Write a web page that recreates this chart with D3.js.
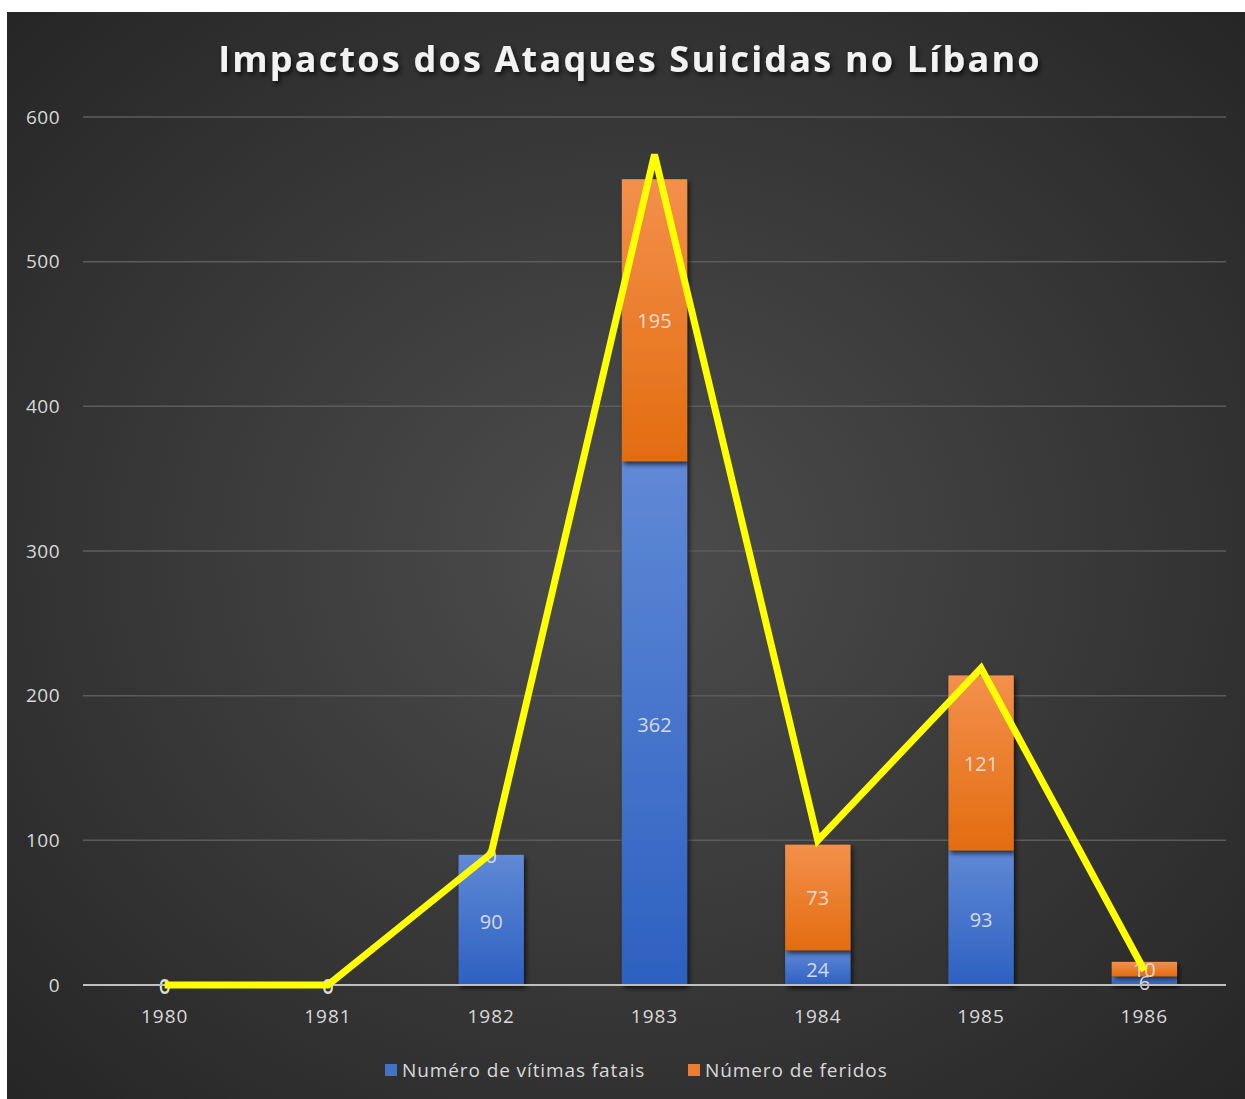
<!DOCTYPE html>
<html>
<head>
<meta charset="utf-8">
<script src="https://cdn.jsdelivr.net/npm/d3@7"></script>
<style>
  body { margin: 0; background: #fff; }
  svg { display: block; }
  text { font-family: "Open Sans", "Noto Sans", sans-serif; }
</style>
</head>
<body>
<svg width="1245" height="1099"></svg>
<script>
var years = ["1980", "1981", "1982", "1983", "1984", "1985", "1986"];
var fatais = [0, 0, 90, 362, 24, 93, 6];
var feridos = [0, 0, 0, 195, 73, 121, 10];
// yellow line drawn over the bars (hand placed in original)
var linha = [0, 0, 91, 574, 100, 219, 10];
var yTicks = [0, 100, 200, 300, 400, 500, 600];
var seriesNames = ["Numéro de vítimas fatais", "Número de feridos"];

var svg = d3.select("svg"),
    margin = { top: 117, right: 19, bottom: 114, left: 83 },
    width = 1245 - margin.left - margin.right,
    height = 1099 - margin.top - margin.bottom;

var defs = svg.append("defs");

var bg = defs.append("radialGradient").attr("id", "bg")
    .attr("cx", "50%").attr("cy", "50%").attr("r", "70%");
bg.append("stop").attr("offset", "0%").attr("stop-color", "#4d4d4d");
bg.append("stop").attr("offset", "100%").attr("stop-color", "#262626");

var gBlue = defs.append("linearGradient").attr("id", "gBlue").attr("x1", 0).attr("y1", 0).attr("x2", 0).attr("y2", 1);
gBlue.append("stop").attr("offset", "0%").attr("stop-color", "#6089d6");
gBlue.append("stop").attr("offset", "100%").attr("stop-color", "#2d61c1");

var gOrange = defs.append("linearGradient").attr("id", "gOrange").attr("x1", 0).attr("y1", 0).attr("x2", 0).attr("y2", 1);
gOrange.append("stop").attr("offset", "0%").attr("stop-color", "#f3904b");
gOrange.append("stop").attr("offset", "100%").attr("stop-color", "#e36c10");

var shadow = defs.append("filter").attr("id", "shadow").attr("x", "-20%").attr("y", "-20%").attr("width", "140%").attr("height", "160%");
shadow.append("feDropShadow").attr("dx", 2).attr("dy", 3).attr("stdDeviation", 2.5)
    .attr("flood-color", "#000").attr("flood-opacity", 0.7);

svg.append("rect")
    .attr("x", 7).attr("y", 12)
    .attr("width", 1245 - 7).attr("height", 1099 - 12)
    .attr("fill", "url(#bg)");

svg.append("text")
    .attr("x", 630).attr("y", 72)
    .attr("text-anchor", "middle")
    .attr("fill", "#f2f2f2")
    .attr("font-size", 36)
    .attr("font-weight", "bold")
    .attr("letter-spacing", 2.2)
    .attr("filter", "url(#shadow)")
    .text("Impactos dos Ataques Suicidas no Líbano");

var g = svg.append("g").attr("transform", "translate(" + margin.left + "," + margin.top + ")");

var x = d3.scaleBand().domain(years).range([0, width]).paddingInner(0.6).paddingOuter(0.3);
var y = d3.scaleLinear().domain([0, 600]).range([height, 0]);

// gridlines
g.append("g")
    .selectAll("line")
    .data(yTicks.slice(1))
    .enter().append("line")
    .attr("x1", 0).attr("x2", width)
    .attr("y1", function (d) { return y(d); })
    .attr("y2", function (d) { return y(d); })
    .attr("stroke", "#5c5c5c")
    .attr("stroke-width", 1.5);

// y axis labels
var yAxis = g.append("g")
    .call(d3.axisLeft(y).tickValues(yTicks).tickSize(0).tickPadding(23));
yAxis.select(".domain").remove();
yAxis.selectAll("text")
    .attr("fill", "#d9d9d9")
    .attr("font-size", 19)
    .attr("letter-spacing", 0.5)
    .attr("font-family", "Open Sans, sans-serif");

var stacked = years.map(function (d, i) {
    return { year: d, fatais: fatais[i], feridos: feridos[i] };
});

var bars = g.append("g").selectAll("g")
    .data(stacked)
    .enter().append("g");

bars.append("rect")
    .attr("x", function (d) { return x(d.year); })
    .attr("width", x.bandwidth())
    .attr("y", function (d) { return y(d.fatais); })
    .attr("height", function (d) { return height - y(d.fatais); })
    .attr("fill", "url(#gBlue)")
    .attr("filter", "url(#shadow)");

bars.append("rect")
    .attr("x", function (d) { return x(d.year); })
    .attr("width", x.bandwidth())
    .attr("y", function (d) { return y(d.fatais + d.feridos); })
    .attr("height", function (d) { return y(d.fatais) - y(d.fatais + d.feridos); })
    .attr("fill", "url(#gOrange)")
    .attr("filter", "url(#shadow)");

// baseline
g.append("line")
    .attr("x1", 0).attr("x2", width)
    .attr("y1", height).attr("y2", height)
    .attr("stroke", "#bfbfbf")
    .attr("stroke-width", 2);

// data labels
var lbl = { fill: "#e6e6e6", size: 20 };
bars.append("text")
    .attr("x", function (d) { return x(d.year) + x.bandwidth() / 2; })
    .attr("y", function (d) { return (y(0) + y(d.fatais)) / 2; })
    .attr("dy", "0.45em")
    .attr("text-anchor", "middle")
    .attr("fill", lbl.fill).attr("fill-opacity", 0.9)
    .attr("font-size", lbl.size)
    .text(function (d) { return d.fatais; });

bars.append("text")
    .attr("x", function (d) { return x(d.year) + x.bandwidth() / 2; })
    .attr("y", function (d) { return (y(d.fatais) + y(d.fatais + d.feridos)) / 2; })
    .attr("dy", "0.4em")
    .attr("text-anchor", "middle")
    .attr("fill", lbl.fill).attr("fill-opacity", 0.9)
    .attr("font-size", lbl.size)
    .text(function (d) { return d.feridos; });

// x axis labels
var xAxis = g.append("g")
    .attr("transform", "translate(0," + height + ")")
    .call(d3.axisBottom(x).tickSize(0).tickPadding(25));
xAxis.select(".domain").remove();
xAxis.selectAll("text")
    .attr("fill", "#d9d9d9")
    .attr("font-size", 19)
    .attr("letter-spacing", 1)
    .attr("font-family", "Open Sans, sans-serif");

// yellow line
var line = d3.line()
    .x(function (d, i) { return x(years[i]) + x.bandwidth() / 2; })
    .y(function (d) { return y(d); });

g.append("path")
    .datum(linha)
    .attr("d", line)
    .attr("fill", "none")
    .attr("stroke", "#ffff00")
    .attr("stroke-width", 7)
    .attr("stroke-linejoin", "miter");

// legend
var legend = svg.append("g").attr("transform", "translate(385,1064)");
var legendX = [0, 303];
var legendFill = ["#4472c4", "#ed7d31"];
var items = legend.selectAll("g")
    .data(seriesNames)
    .enter().append("g")
    .attr("transform", function (d, i) { return "translate(" + legendX[i] + ",0)"; });
items.append("rect")
    .attr("width", 12).attr("height", 12)
    .attr("fill", function (d, i) { return legendFill[i]; });
items.append("text")
    .attr("x", 17).attr("y", 6)
    .attr("dy", "0.36em")
    .attr("fill", "#d9d9d9")
    .attr("font-size", 19)
    .attr("letter-spacing", 0.9)
    .text(function (d) { return d; });
</script>
</body>
</html>
